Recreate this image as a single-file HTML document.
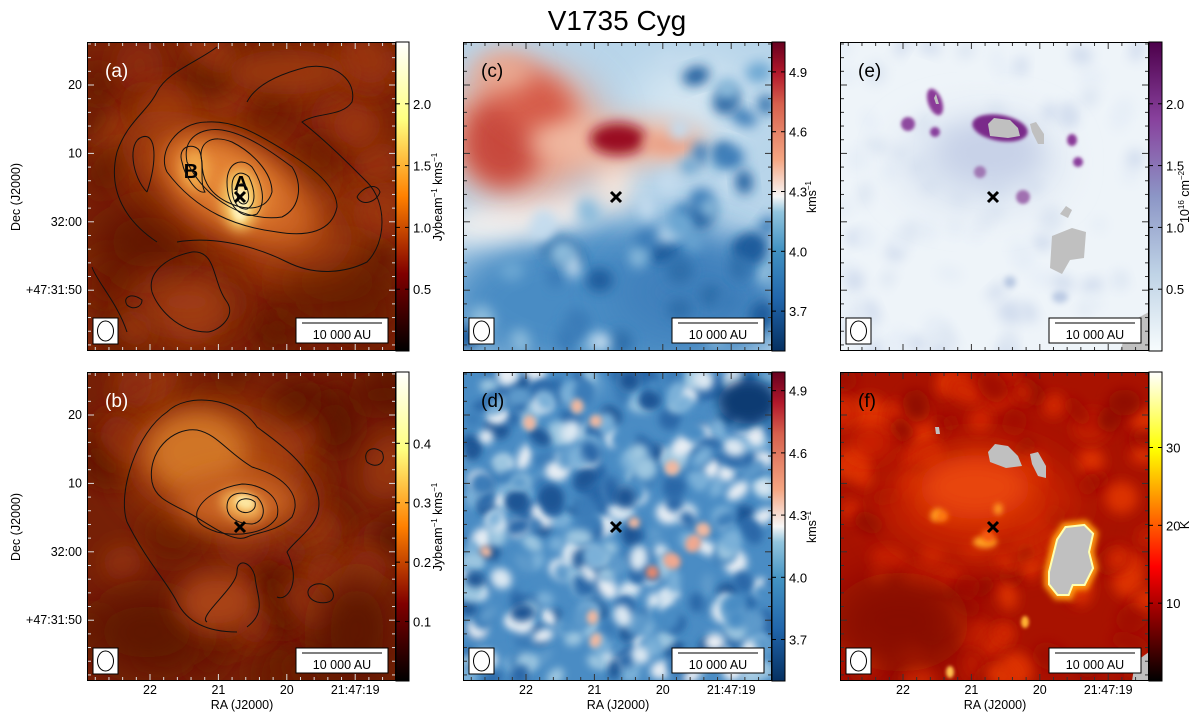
<!DOCTYPE html>
<html><head><meta charset="utf-8">
<style>
html,body{margin:0;padding:0;background:#fff;}
svg{display:block;font-family:"Liberation Sans","DejaVu Sans",sans-serif;}
</style></head>
<body>
<svg id="fig" width="1200" height="716" viewBox="0 0 1200 716" xmlns="http://www.w3.org/2000/svg">
<defs>
<filter id="blur6" x="-50%" y="-50%" width="200%" height="200%"><feGaussianBlur stdDeviation="6"/></filter>
<filter id="blur12" x="-50%" y="-50%" width="200%" height="200%"><feGaussianBlur stdDeviation="12"/></filter>
<filter id="blur20" x="-50%" y="-50%" width="200%" height="200%"><feGaussianBlur stdDeviation="20"/></filter>
<filter id="blur3" x="-50%" y="-50%" width="200%" height="200%"><feGaussianBlur stdDeviation="3"/></filter>
<filter id="blur4" x="-50%" y="-50%" width="200%" height="200%"><feGaussianBlur stdDeviation="4"/></filter>
<filter id="blur2" x="-50%" y="-50%" width="200%" height="200%"><feGaussianBlur stdDeviation="1.5"/></filter>
<linearGradient id="cm-afmhot" x1="0" y1="1" x2="0" y2="0">
<stop offset="0" stop-color="#000"/><stop offset="0.25" stop-color="#800000"/><stop offset="0.5" stop-color="#ff8000"/><stop offset="0.75" stop-color="#ffff80"/><stop offset="1" stop-color="#fff"/></linearGradient>
<linearGradient id="cm-rdbu" x1="0" y1="1" x2="0" y2="0">
<stop offset="0" stop-color="#053061"/><stop offset="0.17" stop-color="#2166ac"/><stop offset="0.33" stop-color="#4393c3"/><stop offset="0.45" stop-color="#92c5de"/><stop offset="0.5" stop-color="#f7f7f7"/><stop offset="0.62" stop-color="#f4a582"/><stop offset="0.8" stop-color="#d6604d"/><stop offset="0.9" stop-color="#b2182b"/><stop offset="1" stop-color="#67001f"/></linearGradient>
<linearGradient id="cm-bupu" x1="0" y1="1" x2="0" y2="0">
<stop offset="0" stop-color="#f7fcfd"/><stop offset="0.25" stop-color="#bfd3e6"/><stop offset="0.5" stop-color="#8c96c6"/><stop offset="0.75" stop-color="#88419d"/><stop offset="1" stop-color="#4d004b"/></linearGradient>
<linearGradient id="cm-hot" x1="0" y1="1" x2="0" y2="0">
<stop offset="0" stop-color="#000"/><stop offset="0.37" stop-color="#ff0000"/><stop offset="0.75" stop-color="#ffff00"/><stop offset="1" stop-color="#fff"/></linearGradient>
</defs>
<text x="617" y="30" font-size="28" text-anchor="middle" fill="#000">V1735 Cyg</text>
<g id="layer"></g>
</svg>
<script>
// ---- colorbar data ----
const cbTicksA = [0.5, 1.0, 1.5, 2.0];
const cbRangeA = [0, 2.5];
const cbTicksB = [0.1, 0.2, 0.3, 0.4];
const cbRangeB = [0, 0.52];
const cbTicksC = [3.7, 4.0, 4.3, 4.6, 4.9];
const cbRangeC = [3.5, 5.05];
const cbTicksD = [3.7, 4.0, 4.3, 4.6, 4.9];
const cbRangeD = [3.5, 4.99];
const cbTicksE = [0.5, 1.0, 1.5, 2.0];
const cbRangeE = [0, 2.5];
const cbTicksF = [10, 20, 30];
const cbRangeF = [0, 39.7];
const raTickLabels = ["22", "21", "20", "21:47:19"];
const decTickLabels = ["20", "10", "32:00", "+47:31:50"];

const NS = "http://www.w3.org/2000/svg";
const layer = document.getElementById('layer');
function mk(tag, attrs, parent) {
  const e = document.createElementNS(NS, tag);
  for (const k in attrs) e.setAttribute(k, attrs[k]);
  (parent || layer).appendChild(e);
  return e;
}
const W = 309, H = 309;
let seed = 7;
function rnd() { seed = (seed * 16807) % 2147483647; return (seed - 1) / 2147483646; }

function texture(m, n, cols, rmin, rmax, filt, region) {
  for (let i = 0; i < n; i++) {
    const cx = rnd() * W, cy = rnd() * H;
    const c = cols[Math.floor(rnd() * cols.length)];
    if (region && !region(cx, cy)) continue;
    mk('ellipse', {cx, cy, rx: rmin + rnd() * (rmax - rmin), ry: rmin + rnd() * (rmax - rmin) * 0.8, fill: c, filter: `url(#${filt})`,
      transform: `rotate(${rnd() * 180} ${cx} ${cy})`}, m);
  }
}

function panel(id, x, y, cfg) {
  const g = mk('g', {transform: `translate(${x},${y})`});
  
  
  const cp = mk('clipPath', {id: 'clip-' + id}, g);
  mk('rect', {x: 0, y: 0, width: W, height: H}, cp);
  const m = mk('g', {'clip-path': `url(#clip-${id})`}, g);
  
  
  mk('rect', {x: 0, y: 0, width: W, height: H, fill: cfg.bg}, m);
  if (cfg.pre) cfg.pre(m);
  cfg.blobs.forEach(b => {
    const e = mk('ellipse', {cx: b[0], cy: b[1], rx: b[2], ry: b[3], fill: b[4],
      transform: `rotate(${b[5] || 0} ${b[0]} ${b[1]})`, filter: `url(#${b[6] || 'blur12'})`}, m);
    
    
  });
  if (cfg.extra) cfg.extra(m);
  (cfg.contours || []).forEach(c => {
    const e = mk('path', {d: c, fill: 'none', stroke: '#111', 'stroke-width': 1}, m);
    
    
  });
  const tc = cfg.tickColor;
  const step = 68.4, off = 63;
  for (let i = -5; i < 30; i++) {
    const tx = off - step + i * step / 5;
    if (tx < 1 || tx > W - 1) continue;
    const L = (i % 5 === 0) ? 7 : 4;
    mk('line', {x1: tx, y1: 0, x2: tx, y2: L, stroke: tc, 'stroke-width': 1}, g);
    mk('line', {x1: tx, y1: H, x2: tx, y2: H - L, stroke: tc, 'stroke-width': 1}, g);
  }
  const offy = 43;
  for (let i = -5; i < 30; i++) {
    const ty = offy - step + i * step / 5;
    if (ty < 1 || ty > H - 1) continue;
    const L = (i % 5 === 0) ? 7 : 4;
    mk('line', {x1: 0, y1: ty, x2: L, y2: ty, stroke: tc, 'stroke-width': 1}, g);
    mk('line', {x1: W, y1: ty, x2: W - L, y2: ty, stroke: tc, 'stroke-width': 1}, g);
  }
  mk('rect', {x: 0.5, y: 0.5, width: W - 1, height: H - 1, fill: 'none', stroke: '#000', 'stroke-width': 1}, g);
  const lb = mk('text', {x: 18, y: 35, 'font-size': 19, fill: cfg.labelColor}, g);
  lb.textContent = '(' + id + ')';
  
  
  const cr = mk('g', {transform: 'translate(153,155)'}, g);
  
  
  mk('path', {d: 'M-5,-5L5,5M5,-5L-5,5', stroke: '#000', 'stroke-width': 3}, cr);
  const bm = mk('g', {}, g);
  
  
  mk('rect', {x: 6, y: 276, width: 25, height: 26, fill: '#fff', stroke: '#000'}, bm);
  mk('ellipse', {cx: 18.5, cy: 289, rx: 8, ry: 10, fill: 'none', stroke: '#000'}, bm);
  const sb = mk('g', {}, g);
  
  
  mk('rect', {x: 209, y: 276, width: 92, height: 25, fill: '#fff', stroke: '#000'}, sb);
  mk('line', {x1: 215, y1: 281, x2: 295, y2: 281, stroke: '#555', 'stroke-width': 1.5}, sb);
  const st = mk('text', {x: 255, y: 297, 'font-size': 12.5, 'text-anchor': 'middle', fill: '#000'}, sb);
  st.textContent = '10 000 AU';
  const cb = mk('g', {transform: `translate(${W},0)`}, g);
  
  
  mk('rect', {x: 0, y: 0, width: 13, height: H, fill: `url(#${cfg.cmap})`, stroke: '#000', 'stroke-width': 1}, cb);
  const [lo, hi] = cfg.range;
  const ys = v => H - (v - lo) / (hi - lo) * H;
  cfg.ticks.forEach(v => {
    const ty = ys(v);
    mk('line', {x1: 0, y1: ty, x2: 4, y2: ty, stroke: '#000'}, cb);
    mk('line', {x1: 13, y1: ty, x2: 9, y2: ty, stroke: '#000'}, cb);
    const t = mk('text', {x: 17, y: ty + 5, 'font-size': 13, fill: '#000'}, cb);
    t.textContent = v.toFixed(cfg.dec);
    
    
  });
  if (cfg.cbTitle) {
    const t = mk('text', {x: 0, y: 0, 'font-size': 12.5, 'text-anchor': 'middle', fill: '#000',
      transform: `translate(${cfg.cbTitleX},${cfg.cbTitleY}) rotate(-90)`}, cb);
    t.innerHTML = cfg.cbTitle;
    
    
  }
  if (cfg.decLabels) {
    decTickLabels.forEach((s, i) => {
      const t = mk('text', {x: -5, y: offy + i * step + 4, 'font-size': 12.5, 'text-anchor': 'end', fill: '#000'}, g);
      t.textContent = s;
      
      
    });
    const t = mk('text', {x: 0, y: 0, 'font-size': 12.5, 'text-anchor': 'middle', fill: '#000',
      transform: `translate(${-67},${155}) rotate(-90)`}, g);
    t.textContent = 'Dec (J2000)';
    
    
  }
  if (cfg.raLabels) {
    raTickLabels.forEach((s, i) => {
      const t = mk('text', {x: off + i * step, y: H + 13, 'font-size': 12.5, 'text-anchor': 'middle', fill: '#000'}, g);
      t.textContent = s;
      
      
    });
    const t = mk('text', {x: 155, y: H + 28, 'font-size': 12.5, 'text-anchor': 'middle', fill: '#000'}, g);
    t.textContent = 'RA (J2000)';
    
    
  }
  return g;
}

const jyTitle = 'Jybeam<tspan dy="-5" font-size="8">−1</tspan><tspan dy="5"> kms</tspan><tspan dy="-5" font-size="8">−1</tspan>';
const kmsTitle = 'kms<tspan dy="-5" font-size="8">−1</tspan>';

// (a)
panel('a', 87, 42, {
  bg: '#7a2206', cmap: 'cm-afmhot', ticks: cbTicksA, range: cbRangeA, dec: 1,
  tickColor: '#ddd', labelColor: '#fff', decLabels: true,
  cbTitle: jyTitle, cbTitleX: 46, cbTitleY: 155,
  pre: (m) => texture(m, 60, ['#661a04', '#8c2c0a', '#9a3610', '#701e06'], 15, 35, 'blur12'),
  blobs: [
    [60, 200, 50, 40, '#621804', 0, 'blur20'], [250, 240, 60, 40, '#661a04', 0, 'blur20'],
    [200, 30, 60, 22, '#9a3810'],
    [100, 260, 55, 25, '#a03e12', 0, 'blur20'],
    [150, 150, 130, 55, '#a4400f', 30, 'blur20'],
    [150, 148, 85, 42, '#cc6420', 30, 'blur12'],
    [140, 140, 58, 30, '#e48434', 30, 'blur12'],
    [108, 128, 14, 20, '#f0a848', 0, 'blur6'],
    [153, 158, 18, 30, '#f6cc68', 0, 'blur6'],
    [153, 162, 9, 18, '#fff0b8', 0, 'blur3']
  ],
  contours: [
    'M70,200 C40,180 20,150 30,110 C40,80 60,70 70,50 C80,30 110,20 130,5 M160,60 C170,40 200,30 220,25 C250,20 270,40 265,60 C255,75 230,70 215,80 C240,100 260,120 280,140 C300,160 300,200 280,220 C260,230 230,235 200,220 C160,200 120,195 90,200',
    'M60,150 C45,135 40,100 55,95 C70,90 70,120 60,150',
    'M80,130 C70,110 90,80 120,80 C150,78 175,95 200,110 C225,125 250,145 250,165 C245,190 220,195 190,190 C150,185 110,170 80,130',
    'M100,120 C95,95 115,85 135,88 C160,92 185,110 205,125 C215,140 215,165 195,175 C160,180 120,160 100,120',
    'M115,120 C110,100 125,92 145,100 C165,110 185,130 185,150 C180,168 160,170 140,160 C120,150 115,135 115,120',
    'M95,120 C90,105 105,100 112,108 C118,120 112,140 118,150 C110,152 98,135 95,120',
    'M140,140 C140,120 155,115 165,125 C175,140 180,160 170,172 C155,178 140,165 140,140',
    'M145,145 C145,130 155,128 162,135 C168,148 170,162 160,167 C150,168 145,158 145,145',
    'M150,150 C150,140 157,140 160,146 C163,155 162,162 156,162 C151,161 150,156 150,150',
    'M40,290 C30,260 10,240 5,225 M120,290 C90,290 70,265 65,250 C60,230 80,215 105,210 C130,208 125,240 140,260 C150,275 130,290 120,290',
    'M270,155 C275,145 290,140 293,150 C290,160 275,165 270,155',
    'M40,263 C35,255 45,250 55,258 C55,266 45,268 40,263'
  ],
  extra: (m) => {
    ['A', 'B'].forEach((s, i) => {
      const t = mk('text', {x: i ? 104 : 154, y: i ? 136 : 148, 'font-size': 20, 'font-weight': 'bold', 'text-anchor': 'middle', fill: '#000'}, m);
      t.textContent = s;
      
      
    });
  }
});

// (b)
panel('b', 87, 372, {
  bg: '#762006', cmap: 'cm-afmhot', ticks: cbTicksB, range: cbRangeB, dec: 1,
  tickColor: '#ddd', labelColor: '#fff', decLabels: true, raLabels: true,
  cbTitle: jyTitle, cbTitleX: 46, cbTitleY: 155,
  pre: (m) => texture(m, 60, ['#601804', '#8a2c0a', '#963610', '#6c1c04'], 15, 35, 'blur12'),
  blobs: [
    [60, 260, 60, 40, '#5e1604', 0, 'blur20'], [270, 260, 40, 60, '#5e1604', 0, 'blur20'],
    [130, 90, 90, 60, '#a8420f', 0, 'blur20'],
    [110, 80, 50, 40, '#d07428', 0, 'blur12'],
    [150, 130, 60, 30, '#c86224', 0, 'blur12'],
    [130, 230, 40, 30, '#a84214', 0, 'blur12'],
    [155, 133, 22, 14, '#f4b458', 20, 'blur6'],
    [158, 130, 10, 7, '#fde6a0', 20, 'blur3']
  ],
  contours: [
    'M40,150 C30,120 50,60 80,40 C100,20 150,25 170,55 C190,70 220,90 230,120 C240,150 210,165 200,180 C215,210 200,230 190,225 M150,260 C120,260 100,250 90,230 C80,210 60,190 40,150',
    'M65,110 C60,80 85,55 110,58 C130,62 140,80 165,95 C200,105 215,125 205,145 C190,160 170,160 160,165 C145,172 120,150 100,140 C80,130 68,125 65,110',
    'M110,140 C115,125 135,115 155,112 C175,112 195,125 190,145 C180,162 150,165 130,160 C115,155 108,150 110,140',
    'M140,135 C140,120 155,118 170,125 C180,135 178,150 165,152 C150,152 140,145 140,135',
    'M150,132 C152,126 162,125 168,130 C170,138 162,142 155,140 C150,138 149,135 150,132',
    'M120,250 C110,245 150,215 150,200 C150,185 165,190 168,205 C170,225 180,240 160,255 M230,230 C215,225 220,210 235,212 C250,215 252,235 230,230',
    'M280,90 C275,80 285,72 295,80 C300,90 290,98 280,90'
  ]
});

// (c)
panel('c', 463, 42, {
  bg: '#b8d5ea', cmap: 'cm-rdbu', ticks: cbTicksC, range: cbRangeC, dec: 1,
  tickColor: '#333', labelColor: '#000',
  cbTitle: kmsTitle, cbTitleX: 44, cbTitleY: 155,
  blobs: [
    [150, 260, 170, 80, '#4a8cc4', 0, 'blur20'],
    [230, 250, 80, 50, '#3f80bc', 0, 'blur20'],
    [230, 60, 60, 40, '#d4e6f2', 0, 'blur20'],
    [60, 175, 80, 22, '#f0f0f0', -10, 'blur12'],
    [150, 140, 20, 30, '#f3e6de', 0, 'blur12'],
    [60, 90, 80, 65, '#e8a088', 0, 'blur20'],
    [40, 100, 40, 45, '#c84a3e', 0, 'blur12'],
    [70, 60, 45, 30, '#d65c48', 30, 'blur12'],
    [40, 30, 30, 20, '#eaa890', 0, 'blur12'],
    [155, 100, 90, 24, '#f0b8a0', 0, 'blur12'],
    [155, 97, 28, 16, '#9a1020', 0, 'blur6'],
    [205, 102, 25, 10, '#eaa288', 0, 'blur6']
  ],
  extra: (m) => texture(m, 90, ['#2e6eaa', '#6aa6d2', '#c4dcee', '#3a7cb8', '#1e5c9c', '#8cbcdc'], 8, 16, 'blur6', (x, y) => y > 165 || (x > 200 && y > 20) )
});

// (d)
panel('d', 463, 372, {
  bg: '#4a8cc4', cmap: 'cm-rdbu', ticks: cbTicksD, range: cbRangeD, dec: 1,
  tickColor: '#333', labelColor: '#000', raLabels: true,
  cbTitle: kmsTitle, cbTitleX: 44, cbTitleY: 155,
  blobs: [],
  extra: (m) => {
    texture(m, 420, ['#dbe8f2', '#2a68a8', '#1c5494', '#9cc6e0', '#3a7cb8', '#5d9acb', '#4a8cc4', '#2a68a8', '#7ab0d8', '#e8eef4'], 6, 14, 'blur4');
    texture(m, 16, ['#e4876e', '#f0a890'], 6, 10, 'blur3', (x, y) => x > 180 && y > 120);
    texture(m, 10, ['#f0b8a0'], 5, 8, 'blur3');
    mk('ellipse', {cx: 285, cy: 30, rx: 30, ry: 22, fill: '#0a3a72', filter: 'url(#blur6)'}, m);
  }
});

// (e)
panel('e', 840, 42, {
  bg: '#eef4f9', cmap: 'cm-bupu', ticks: cbTicksE, range: cbRangeE, dec: 1,
  tickColor: '#333', labelColor: '#000',
  cbTitle: '10<tspan dy="-5" font-size="8">16</tspan><tspan dy="5"> cm</tspan><tspan dy="-5" font-size="8">−2</tspan>',
  cbTitleX: 40, cbTitleY: 155,
  pre: (m) => texture(m, 80, ['#dde6f2', '#e6eef7', '#d2ddee'], 6, 14, 'blur6'),
  blobs: [
    [140, 120, 80, 45, '#d6e0ef', 0, 'blur20'],
    [150, 110, 50, 30, '#c8d2e8', 0, 'blur12'],
    [95, 60, 7, 14, '#8a3a98', -20, 'blur2'],
    [68, 82, 7, 7, '#8e4a9f', 0, 'blur2'],
    [95, 90, 5, 5, '#88409c', 0, 'blur2'],
    [160, 86, 28, 13, '#7a2a8a', 10, 'blur2'],
    [232, 98, 5, 6, '#8a3a98', 0, 'blur2'],
    [238, 120, 5, 5, '#8a3e9c', 0, 'blur2'],
    [183, 155, 7, 7, '#a070b0', 0, 'blur2'],
    [140, 130, 6, 6, '#a078b4', 0, 'blur2'],
    [170, 240, 6, 6, '#b8c8e2', 0, 'blur3'],
    [220, 255, 8, 6, '#bccbe4', 0, 'blur3']
  ],
  extra: (m) => {
    const gp = [
      'M148,82 L154,76 L170,78 L178,86 L180,94 L168,96 L150,94 Z',
      'M190,82 L196,80 L204,92 L204,102 L198,102 L192,90 Z',
      'M94,56 L96,52 L99,62 L96,62 Z',
      'M220,172 L226,164 L232,168 L228,176 Z M212,194 L232,186 L246,190 L244,216 L230,218 L222,232 L210,226 Z',
      'M290,280 L309,270 L309,309 L280,309 Z'
    ];
    gp.forEach(d => {
      const e = mk('path', {d, fill: '#c0c0c0'}, m);
      
      
    });
  }
});

// (f)
panel('f', 840, 372, {
  bg: '#a81200', cmap: 'cm-hot', ticks: cbTicksF, range: cbRangeF, dec: 0,
  tickColor: '#333', labelColor: '#000', raLabels: true,
  cbTitle: 'K', cbTitleX: 40, cbTitleY: 153,
  pre: (m) => texture(m, 120, ['#900a00', '#c01c02', '#d02604', '#a01000', '#dc3006'], 8, 20, 'blur6'),
  blobs: [
    [60, 250, 70, 50, '#880800', 0, 'blur20'],
    [140, 130, 95, 55, '#cc2604', 0, 'blur20'],
    [135, 115, 55, 32, '#e84408', 0, 'blur12'],
    [145, 170, 12, 6, '#ffa020', 0, 'blur3'],
    [30, 70, 20, 15, '#d82804', 0, 'blur12'],
    [185, 250, 4, 6, '#ffb030', 0, 'blur2'],
    [110, 300, 4, 6, '#ffc050', 0, 'blur2']
  ],
  extra: (m) => {
    texture(m, 40, ['#ff7a10', '#f85a0a', '#ff9a20'], 4, 8, 'blur3', (x, y) => (x - 135) * (x - 135) / 4900 + (y - 125) * (y - 125) / 2000 < 1);
    const ring = 'M210,200 L218,168 L226,156 L244,154 L252,162 L248,180 L252,196 L244,212 L232,212 L228,222 L218,222 L210,212 Z';
    mk('path', {d: ring, fill: 'none', stroke: '#ff9a10', 'stroke-width': 12, filter: 'url(#blur3)'}, m);
    mk('path', {d: ring, fill: 'none', stroke: '#ffffb0', 'stroke-width': 4}, m);
    const gp = [
      'M148,80 L155,72 L168,74 L178,84 L182,94 L166,96 L150,90 Z',
      'M190,82 L198,80 L206,94 L206,106 L198,104 L192,92 Z',
      'M95,55 L99,55 L100,62 L96,62 Z',
      ring,
      'M295,290 L309,280 L309,309 L292,309 Z'
    ];
    gp.forEach(d => {
      const e = mk('path', {d, fill: '#c0c0c0'}, m);
      
      
    });
  }
});
</script>
</body></html>
